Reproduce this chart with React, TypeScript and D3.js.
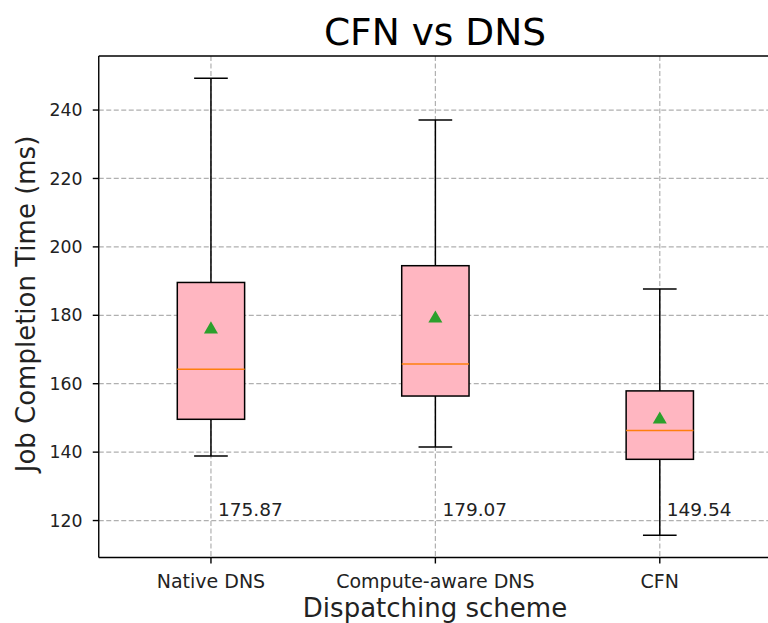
import React from "react";
import * as d3 from "d3";

const categories = ["Native DNS", "Compute-aware DNS", "CFN"];
const whiskerLow = [138.9, 141.5, 115.7];
const q1 = [149.6, 156.4, 137.9];
const medians = [164.2, 165.8, 146.3];
const q3 = [189.6, 194.5, 157.9];
const whiskerHigh = [249.3, 237.1, 187.7];
const means = [175.87, 179.07, 149.54];
const meanLabels = ["175.87", "179.07", "149.54"];
const yTicks = [120, 140, 160, 180, 200, 220, 240];
const labelY = 121.3;

const W = 768;
const H = 623;
const left = 98.75;
const right = 772;
const top = 56;
const bottom = 557.5;
const font = "DejaVu Sans, sans-serif";

export default function App() {
  const x = d3.scaleLinear().domain([0.5, 3.5]).range([left, right]);
  const y = d3.scaleLinear().domain([109.2, 255.8]).range([bottom, top]);
  const boxW = x(1.15) - x(1);
  const capW = x(1.075) - x(1);
  const tri = d3.symbol().type(d3.symbolTriangle).size(85)();
  const grid = "#b0b0b0";
  return (
    <svg width={W} height={H} style={{ position: "absolute", left: 0, top: 0, background: "#fff" }} fontFamily={font}>
      <rect x={0} y={0} width={W} height={H} fill="#fff" />
      {yTicks.map((t) => (
        <line key={"gy" + t} x1={left} x2={right} y1={y(t)} y2={y(t)} stroke={grid} strokeWidth={1.2} strokeDasharray="5,2.5" />
      ))}
      {categories.map((c, i) => (
        <line key={"gx" + c} x1={x(i + 1)} x2={x(i + 1)} y1={top} y2={bottom} stroke={grid} strokeWidth={1.2} strokeDasharray="5,2.5" />
      ))}
      {categories.map((c, i) => {
        const cx = x(i + 1);
        return (
          <g key={"b" + c}>
            <line x1={cx} x2={cx} y1={y(whiskerLow[i])} y2={y(q1[i])} stroke="#000" strokeWidth={1.5} />
            <line x1={cx} x2={cx} y1={y(q3[i])} y2={y(whiskerHigh[i])} stroke="#000" strokeWidth={1.5} />
            <line x1={cx - capW} x2={cx + capW} y1={y(whiskerLow[i])} y2={y(whiskerLow[i])} stroke="#000" strokeWidth={1.5} />
            <line x1={cx - capW} x2={cx + capW} y1={y(whiskerHigh[i])} y2={y(whiskerHigh[i])} stroke="#000" strokeWidth={1.5} />
            <rect x={cx - boxW} y={y(q3[i])} width={boxW * 2} height={y(q1[i]) - y(q3[i])} fill="#ffb6c1" stroke="#000" strokeWidth={1.5} />
            <line x1={cx - boxW} x2={cx + boxW} y1={y(medians[i])} y2={y(medians[i])} stroke="#ff7f0e" strokeWidth={1.5} />
            <path d={tri || ""} transform={`translate(${cx},${y(means[i])})`} fill="#2ca02c" />
            <text x={cx + 7} y={y(labelY)} fontSize={18.5} fill="#222">{meanLabels[i]}</text>
          </g>
        );
      })}
      <line x1={left} x2={left} y1={top} y2={bottom} stroke="#000" strokeWidth={1.4} />
      <line x1={left} x2={right} y1={bottom} y2={bottom} stroke="#000" strokeWidth={1.4} />
      <line x1={left} x2={right} y1={top} y2={top} stroke="#000" strokeWidth={1.4} />
      <line x1={right} x2={right} y1={top} y2={bottom} stroke="#000" strokeWidth={1.4} />
      {yTicks.map((t) => (
        <g key={"yt" + t}>
          <line x1={left - 6} x2={left} y1={y(t)} y2={y(t)} stroke="#000" strokeWidth={1.4} />
          <text x={82.5} y={y(t)} dy="0.35em" textAnchor="end" fontSize={17.3} fill="#222">{t}</text>
        </g>
      ))}
      {categories.map((c, i) => (
        <g key={"xt" + c}>
          <line x1={x(i + 1)} x2={x(i + 1)} y1={bottom} y2={bottom + 6} stroke="#000" strokeWidth={1.4} />
          <text x={x(i + 1)} y={588} textAnchor="middle" fontSize={19} fill="#222">{c}</text>
        </g>
      ))}
      <text x={435} y={617} textAnchor="middle" fontSize={26} fill="#222">Dispatching scheme</text>
      <text transform="translate(35,304) rotate(-90)" textAnchor="middle" fontSize={26} fill="#222">Job Completion Time (ms)</text>
      <text x={435} y={45} textAnchor="middle" fontSize={37.5} fill="#000">CFN vs DNS</text>
    </svg>
  );
}
